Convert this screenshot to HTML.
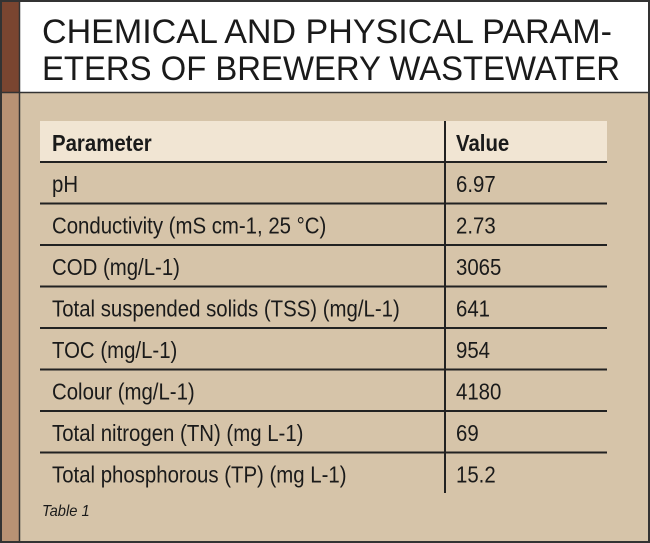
<!DOCTYPE html>
<html><head><meta charset="utf-8"><style>
html,body{margin:0;padding:0;background:#d6c4a9}
svg{display:block}
text{font-family:"Liberation Sans",sans-serif;fill:#1a1a1a}
</style></head><body>
<svg width="650" height="543" viewBox="0 0 650 543" xmlns="http://www.w3.org/2000/svg">
<rect x="0" y="0" width="650" height="543" fill="#d6c4a9"/>
<rect x="0" y="0" width="650" height="92" fill="#ffffff"/>
<rect x="2" y="2" width="17" height="90" fill="#7a4530"/>
<rect x="2" y="92" width="17" height="449" fill="#b89274"/>
<line x1="19.5" y1="2" x2="19.5" y2="541" stroke="#333" stroke-width="1.5"/>
<line x1="2" y1="92.5" x2="648" y2="92.5" stroke="#333" stroke-width="1.5"/>
<rect x="1" y="1" width="648" height="541" fill="none" stroke="#333" stroke-width="2"/>
<text x="42" y="43" font-size="34" textLength="570" lengthAdjust="spacingAndGlyphs">CHEMICAL AND PHYSICAL PARAM-</text>
<text x="42" y="80" font-size="34" textLength="578" lengthAdjust="spacingAndGlyphs">ETERS OF BREWERY WASTEWATER</text>
<rect x="40" y="121" width="567" height="41" fill="#f1e5d3"/>
<g stroke="#222" stroke-width="2">
<line x1="40" y1="162" x2="607" y2="162"/>
<line x1="40" y1="203.5" x2="607" y2="203.5"/>
<line x1="40" y1="245" x2="607" y2="245"/>
<line x1="40" y1="286.5" x2="607" y2="286.5"/>
<line x1="40" y1="328" x2="607" y2="328"/>
<line x1="40" y1="369.5" x2="607" y2="369.5"/>
<line x1="40" y1="411" x2="607" y2="411"/>
<line x1="40" y1="452.5" x2="607" y2="452.5"/>
<line x1="445" y1="121" x2="445" y2="493"/>
</g>
<g font-size="23" transform="translate(52,0) scale(0.887,1)">
<text x="0" y="151" font-weight="bold">Parameter</text>
<text x="0" y="192">pH</text>
<text x="0" y="233.5">Conductivity (mS cm-1, 25 °C)</text>
<text x="0" y="275">COD (mg/L-1)</text>
<text x="0" y="316.5">Total suspended solids (TSS) (mg/L-1)</text>
<text x="0" y="358">TOC (mg/L-1)</text>
<text x="0" y="399.5">Colour (mg/L-1)</text>
<text x="0" y="441">Total nitrogen (TN) (mg L-1)</text>
<text x="0" y="482.5">Total phosphorous (TP) (mg L-1)</text>
</g>
<g font-size="23" transform="translate(456,0) scale(0.887,1)">
<text x="0" y="151" font-weight="bold">Value</text>
<text x="0" y="192">6.97</text>
<text x="0" y="233.5">2.73</text>
<text x="0" y="275">3065</text>
<text x="0" y="316.5">641</text>
<text x="0" y="358">954</text>
<text x="0" y="399.5">4180</text>
<text x="0" y="441">69</text>
<text x="0" y="482.5">15.2</text>
</g>
<g transform="translate(42,0) scale(0.92,1)">
<text x="0" y="516" font-size="16" font-style="italic">Table 1</text>
</g>
</svg>
</body></html>
